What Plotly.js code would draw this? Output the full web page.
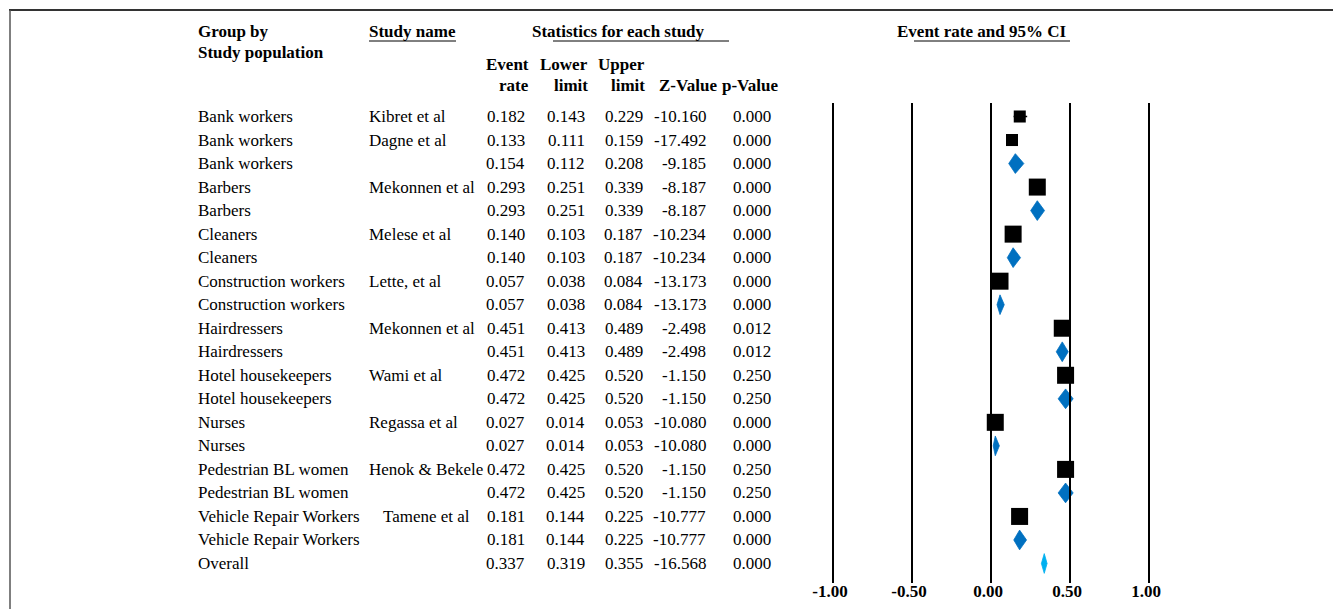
<!DOCTYPE html>
<html><head><meta charset="utf-8">
<script src="https://cdn.plot.ly/plotly-3.0.1.min.js"></script>
<style>html,body{margin:0;padding:0;background:#fff}#chart{width:1333px;height:609px}</style>
</head><body><div id="chart"></div>
<script>
// ---------------- data ----------------
const groups = ["Bank workers","Bank workers","Bank workers","Barbers","Barbers","Cleaners","Cleaners",
  "Construction workers","Construction workers","Hairdressers","Hairdressers","Hotel housekeepers",
  "Hotel housekeepers","Nurses","Nurses","Pedestrian BL women","Pedestrian BL women",
  "Vehicle Repair Workers","Vehicle Repair Workers","Overall"];
const studies = ["Kibret et al","Dagne et al","","Mekonnen et al","","Melese et al","","Lette, et al","",
  "Mekonnen et al","","Wami et al","","Regassa et al","","Henok & Bekele","","Tamene et al","",""];
const rowTypes = ["study","study","subgroup","study","subgroup","study","subgroup","study","subgroup",
  "study","subgroup","study","subgroup","study","subgroup","study","subgroup","study","subgroup","overall"];
const eventRate = [0.182,0.133,0.154,0.293,0.293,0.140,0.140,0.057,0.057,0.451,0.451,0.472,0.472,0.027,0.027,0.472,0.472,0.181,0.181,0.337];
const lowerLimit = [0.143,0.111,0.112,0.251,0.251,0.103,0.103,0.038,0.038,0.413,0.413,0.425,0.425,0.014,0.014,0.425,0.425,0.144,0.144,0.319];
const upperLimit = [0.229,0.159,0.208,0.339,0.339,0.187,0.187,0.084,0.084,0.489,0.489,0.520,0.520,0.053,0.053,0.520,0.520,0.225,0.225,0.355];
const zValue = [-10.160,-17.492,-9.185,-8.187,-8.187,-10.234,-10.234,-13.173,-13.173,-2.498,-2.498,-1.150,-1.150,-10.080,-10.080,-1.150,-1.150,-10.777,-10.777,-16.568];
const pValue = [0.000,0.000,0.000,0.000,0.000,0.000,0.000,0.000,0.000,0.012,0.012,0.250,0.250,0.000,0.000,0.250,0.250,0.000,0.000,0.000];
// relative weight of each study within its subgroup (drives square size)
const withinWeight = [0.5,0.5,null,1,null,1,null,1,null,1,null,1,null,1,null,1,null,1,null,null];
const tickVals = [-1, -0.5, 0, 0.5, 1];
const tickLabels = ["-1.00","-0.50","0.00","0.50","1.00"];

// ---------------- layout helpers ----------------
const W = 1333, H = 609, plotBottom = 583;
const FONT = 'Liberation Serif, "Times New Roman", serif';
const yTopRow = 116.5, rowH = 23.526;
const pxToRow = p => (p - yTopRow) / rowH;
const xP = p => p / W;
const yP = p => (plotBottom - p) / plotBottom;
const zeroPx = 991, pxPerUnit = 158, plotLeftPx = 800;

const rows = groups.map((_, i) => i);

// ---------------- traces ----------------
const sIdx = rows.filter(i => rowTypes[i] === "study");
const squares = {
  type: "scatter", mode: "markers",
  x: sIdx.map(i => eventRate[i]), y: sIdx.map(i => i),
  marker: {symbol: "square", color: "#000", opacity: 1, size: sIdx.map(i => 17 * Math.sqrt(withinWeight[i])), line: {width: 0}},
  error_x: {type: "data", symmetric: false,
    array: sIdx.map(i => upperLimit[i] - eventRate[i]),
    arrayminus: sIdx.map(i => eventRate[i] - lowerLimit[i]),
    color: "#000", thickness: 1.5, width: 0},
  hoverinfo: "skip"
};
function diamonds(type, color) {
  const xs = [], ys = [], h = 0.42;
  rows.filter(i => rowTypes[i] === type).forEach(i => {
    xs.push(lowerLimit[i], eventRate[i], upperLimit[i], eventRate[i], lowerLimit[i], null);
    ys.push(i, i - h, i, i + h, i, null);
  });
  return {type: "scatter", mode: "lines", x: xs, y: ys, fill: "toself", fillcolor: color,
    line: {color: color, width: 0.8}, connectgaps: false, hoverinfo: "skip"};
}
const traces = [diamonds("subgroup", "#0070C0"), diamonds("overall", "#00B0F0"), squares];

// ---------------- annotations ----------------
const ann = [];
function txt(x, y, text, anchor, yref, bold) {
  ann.push({xref: "paper", yref: yref, x: x, y: y, text: bold ? "<b>" + text + "</b>" : text,
    xanchor: anchor, yanchor: "middle", showarrow: false, borderpad: 0, borderwidth: 0,
    font: {family: FONT, size: 17, color: "#000"}});
}
// header
txt(xP(198), yP(32), "Group by", "left", "paper", true);
txt(xP(198), yP(52), "Study population", "left", "paper", true);
txt(xP(369), yP(32), "Study name", "left", "paper", true);
txt(xP(618), yP(32), "Statistics for each study", "center", "paper", true);
txt(xP(981), yP(32), "Event rate and 95% CI", "center", "paper", true);
const colRight = [529, 588, 645, 717, 779];
const head1 = ["Event", "Lower", "Upper", "", ""];
const head2 = ["rate", "limit", "limit", "Z-Value", "p-Value"];
colRight.forEach((x, k) => {
  if (head1[k]) txt(xP(x), yP(64), head1[k], "right", "paper", true);
  txt(xP(x), yP(85), head2[k], "right", "paper", true);
});
// rows
const studyShift = {17: 14};
const numRight = [525, 585, 643, 706, 771];
rows.forEach(i => {
  txt(xP(198), i, groups[i], "left", "y", false);
  if (studies[i]) txt(xP(369 + (studyShift[i] || 0)), i, studies[i], "left", "y", false);
  const vals = [eventRate[i].toFixed(3), lowerLimit[i].toFixed(3), upperLimit[i].toFixed(3),
    zValue[i].toFixed(3), pValue[i].toFixed(3)];
  vals.forEach((v, k) => txt(xP(numRight[k]), i, v, "right", "y", false));
});

// ---------------- shapes ----------------
const shapes = [];
tickVals.forEach(v => shapes.push({type: "line", xref: "x", yref: "y", x0: v, x1: v,
  y0: pxToRow(103), y1: pxToRow(plotBottom), line: {color: "#000", width: 2}}));
// frame
shapes.push({type: "line", xref: "paper", yref: "paper", x0: xP(9), x1: 1, y0: yP(10), y1: yP(10), line: {color: "#333", width: 2}});
shapes.push({type: "line", xref: "paper", yref: "paper", x0: xP(10), x1: xP(10), y0: yP(10), y1: yP(H), line: {color: "#555", width: 1.5}});
// underlines
[[369, 456], [553, 729], [914, 1070]].forEach(([a, b]) => shapes.push({type: "line", xref: "paper", yref: "paper",
  x0: xP(a), x1: xP(b), y0: yP(41), y1: yP(41), line: {color: "#000", width: 1}}));

const layout = {
  width: W, height: H, margin: {l: 0, r: 0, t: 0, b: H - plotBottom, pad: 0},
  paper_bgcolor: "#fff", plot_bgcolor: "rgba(0,0,0,0)", showlegend: false,
  xaxis: {domain: [xP(plotLeftPx), 1], range: [(plotLeftPx - zeroPx) / pxPerUnit, (W - zeroPx) / pxPerUnit],
    tickvals: tickVals, ticktext: tickLabels.map(t => "<b>" + t + "</b>"),
    tickfont: {family: FONT, size: 17, color: "#000"}, showgrid: false, zeroline: false, showline: false,
    ticks: "", ticklabelstandoff: -4, ticklabelshift: -3, fixedrange: true},
  yaxis: {domain: [0, 1], range: [pxToRow(plotBottom), pxToRow(0)], visible: false, fixedrange: true},
  annotations: ann, shapes: shapes
};
Plotly.newPlot("chart", traces, layout, {staticPlot: true, displayModeBar: false});
</script></body></html>
